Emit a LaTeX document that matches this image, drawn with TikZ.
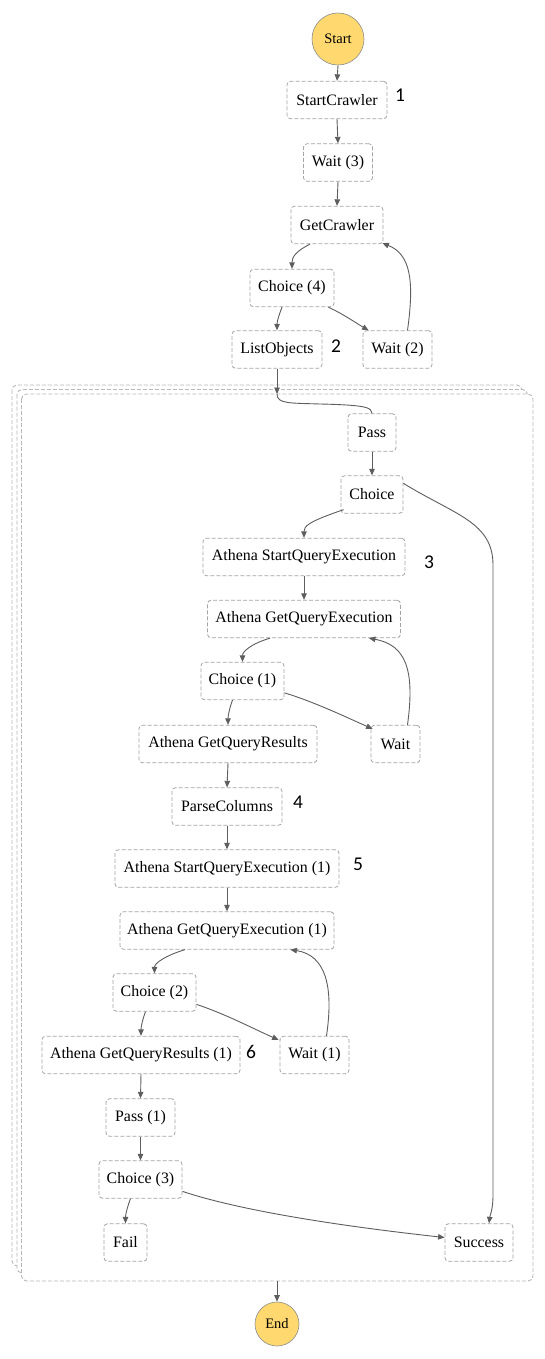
\documentclass[tikz,border=0pt]{standalone}
\usepackage{fontspec}
\setmainfont{Liberation Serif}
\newfontfamily\numfont{Carlito}
\usetikzlibrary{arrows.meta}
\definecolor{boxgray}{HTML}{A4A4A4}
\definecolor{framegray}{HTML}{B8B8B8}
\definecolor{arrowgray}{HTML}{5E5E5E}
\definecolor{termfill}{HTML}{FFD970}
\definecolor{termborder}{HTML}{8C8C8C}
\begin{document}
\begin{tikzpicture}[x=1pt,y=-1pt,
  state/.style={draw=boxgray, dash pattern=on 4pt off 2pt, rounded corners=3.5pt, line width=0.8pt,
    minimum height=37.5pt, inner sep=0pt, fill=white, font=\fontsize{15.9}{18}\selectfont},
  term/.style={circle, draw=termborder, fill=termfill, line width=0.6pt, inner sep=0pt,
    font=\fontsize{14.5}{17}\selectfont},
  frame/.style={draw=framegray, fill=white, dash pattern=on 4pt off 2pt, rounded corners=5pt, line width=0.9pt},
  flow/.style={draw=arrowgray, line width=0.9pt, -{Triangle[length=6.5pt,width=5.5pt]}},
  link/.style={draw=arrowgray, line width=0.9pt},
  num/.style={font=\numfont\fontsize{19.5}{21}\selectfont}]
\useasboundingbox (0,0) rectangle (545,1359);

% map frames
\draw[frame] (12,385) rectangle (522,1266);
\draw[frame] (17,389.5) rectangle (527.5,1273);
\draw[frame] (21.5,394) rectangle (533,1281);
\coordinate (mapin) at (277,394);
\coordinate (mapout) at (277,1281);

% terminals
\node[term, minimum size=52pt] (start) at (338,39) {Start};
\node[term, minimum size=44pt] (end) at (277,1324) {End};

% outer states
\node[state, minimum width=100pt] (sc) at (337,100) {StartCrawler};
\node[state, minimum width=69pt] (w3) at (338,162.5) {Wait (3)};
\node[state, minimum width=92pt] (gc) at (337,225) {GetCrawler};
\node[state, minimum width=84pt] (c4) at (292,288) {Choice (4)};
\node[state, minimum width=90pt] (lo) at (277,349.5) {ListObjects};
\node[state, minimum width=69pt] (w2) at (397.5,349.5) {Wait (2)};

% inner states
\node[state, minimum width=48pt] (pass) at (372,432.5) {Pass};
\node[state, minimum width=62pt] (choice) at (372,494.5) {Choice};
\node[state, minimum width=202pt] (sqe) at (304,557) {Athena StartQueryExecution};
\node[state, minimum width=193pt] (gqe) at (304,619) {Athena GetQueryExecution};
\node[state, minimum width=83pt] (c1) at (242.5,681) {Choice (1)};
\node[state, minimum width=178pt] (gqr) at (228,744) {Athena GetQueryResults};
\node[state, minimum width=49pt] (wait) at (395.5,744) {Wait};
\node[state, minimum width=110pt] (pc) at (227,806.5) {ParseColumns};
\node[state, minimum width=224pt] (sqe1) at (227,868.5) {Athena StartQueryExecution (1)};
\node[state, minimum width=214pt] (gqe1) at (227,930.5) {Athena GetQueryExecution (1)};
\node[state, minimum width=83pt] (c2) at (154.5,992.5) {Choice (2)};
\node[state, minimum width=198pt] (gqr1) at (141,1055) {Athena GetQueryResults (1)};
\node[state, minimum width=69pt] (w1) at (314.5,1055) {Wait (1)};
\node[state, minimum width=69pt] (p1) at (140.5,1117.5) {Pass (1)};
\node[state, minimum width=83pt] (c3) at (140.5,1179.5) {Choice (3)};
\node[state, minimum width=43pt] (fail) at (125.5,1242.5) {Fail};
\node[state, minimum width=68pt] (succ) at (479,1242.5) {Success};

% number labels
\node[num] (n1) at (400,95) {1};
\node[num] (n2) at (336,346) {2};
\node[num] (n3) at (429,562) {3};
\node[num] (n4) at (298,802) {4};
\node[num] (n5) at (358,864) {5};
\node[num] (n6) at (251,1052) {6};

% connectors
\draw[flow] (start.south) -- (sc.north);
\draw[flow] (sc.south) -- (w3.north);
\draw[flow] (w3.south) -- (gc.north);
\draw[flow] ([xshift=-27pt]gc.south) .. controls +(-14,7) and +(0,-12) .. (c4.north);
\draw[flow] ([xshift=-10pt]c4.south) .. controls +(-3,8) and +(0,-9) .. (lo.north);
\draw[flow] ([xshift=-6pt]c4.south east) .. controls +(15,7) and +(-12,-7) .. ([xshift=6pt]w2.north west);
\draw[flow] ([xshift=10pt]w2.north) .. controls +(7,-50) and +(28,11) .. ([xshift=-1pt,yshift=1pt]gc.south east);
\draw[flow] (lo.south) -- (mapin);
\draw[link] (mapin) .. controls +(0,10) and +(-30,-1) .. (320,404) .. controls +(45,1) and +(0,-6) .. (pass.north);
\draw[flow] (pass.south) -- (choice.north);
\draw[flow] ([xshift=3pt,yshift=4pt]choice.south west) .. controls +(-35,12) and +(0,-12) .. (sqe.north);
\draw[flow] ([yshift=-8pt]choice.north east) .. controls (455,515) and (493,522) .. (493,565)
   -- (493,1195) .. controls (493,1210) and (490,1215) .. ([xshift=10pt]succ.north);
\draw[flow] (sqe.south) -- (gqe.north);
\draw[flow] ([xshift=-34pt]gqe.south) .. controls +(-20,6) and +(0,-10) .. (c1.north);
\draw[flow] ([xshift=-10pt]c1.south) .. controls +(-3,8) and +(0,-9) .. (gqr.north);
\draw[flow] ([yshift=-31pt]c1.north east) .. controls +(30,9) and +(-25,-11) .. ([xshift=2pt,yshift=-4pt]wait.north west);
\draw[flow] ([xshift=12pt]wait.north) .. controls (415,670) and (406,645) .. ([xshift=-32pt]gqe.south east);
\draw[flow] (gqr.south) -- (pc.north);
\draw[flow] (pc.south) -- (sqe1.north);
\draw[flow] (sqe1.south) -- (gqe1.north);
\draw[flow] ([xshift=-42pt]gqe1.south) .. controls +(-20,6) and +(0,-10) .. (c2.north);
\draw[flow] ([xshift=-9pt]c2.south) .. controls +(-3,8) and +(0,-9) .. (gqr1.north);
\draw[flow] ([yshift=-31pt]c2.north east) .. controls +(30,10) and +(-25,-11) .. ([xshift=-1pt,yshift=-4pt]w1.north west);
\draw[flow] ([xshift=12pt]w1.north) .. controls (334,985) and (325,955) .. ([xshift=-44pt]gqe1.south east);
\draw[flow] (gqr1.south) -- (p1.north);
\draw[flow] (p1.south) -- (c3.north);
\draw[flow] ([xshift=-10pt]c3.south) .. controls +(-3,8) and +(0,-9) .. (fail.north);
\draw[flow] ([yshift=-31pt]c3.north east) .. controls +(60,20) and +(-100,-11) .. ([yshift=5pt]succ.west);
\draw[flow] (mapout) -- (end.north);
\end{tikzpicture}
\end{document}
